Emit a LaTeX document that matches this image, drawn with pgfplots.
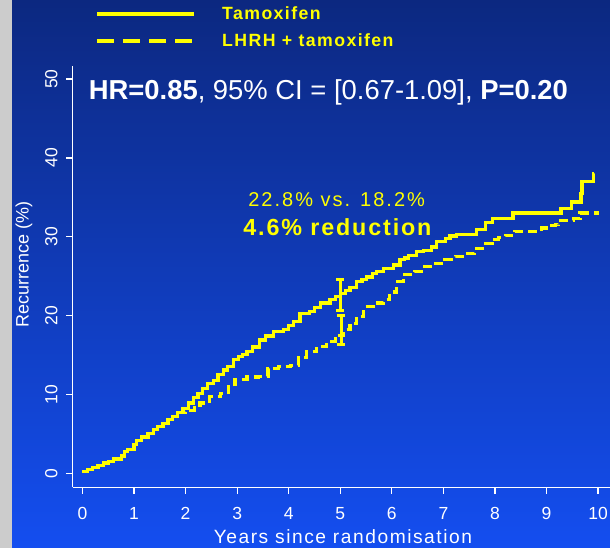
\documentclass[border=0pt]{standalone}
\usepackage{pgfplots}
\pgfplotsset{compat=1.18}
\usepackage{fontspec}
\setmainfont{Liberation Sans}
\newfontfamily\spaced{Liberation Sans}[LetterSpace=8]
\newfontfamily\spacedwide{Liberation Sans}[LetterSpace=10]
\definecolor{bgtop}{RGB}{12,40,128}
\definecolor{bgbot}{RGB}{20,78,240}
\definecolor{strip}{RGB}{204,204,204}
\definecolor{kmyellow}{RGB}{255,255,0}

\begin{document}
\begin{tikzpicture}
\useasboundingbox (0,0) rectangle (610pt,548pt);
\fill[strip] (0,0) rectangle (12pt,548pt);
\shade[top color=bgtop, bottom color=bgbot] (12pt,0) rectangle (610pt,548pt);
\begin{axis}[
    at={(72.7pt,60.7pt)}, anchor=south west,
    scale only axis, width=537.2pt, height=421.3pt,
    xmin=-0.19, xmax=10.23, ymin=-1.78, ymax=51.65,
    axis lines=left, axis line style={-, white, line width=1.3pt},
    tick align=outside, major tick length=6.7pt,
    tick style={white, line width=1.3pt},
    xtick={0,1,...,10}, ytick={0,10,...,50},
    /pgf/number format/assume math mode=true,
    ticklabel style={font=\fontsize{17.5}{20}\selectfont, text=white},
    xticklabel style={yshift=-10pt},
    yticklabel style={xshift=-5pt, rotate=90, anchor=south, inner ysep=3.2pt},
    xlabel={Years since randomisation},
    ylabel={Recurrence (\%)},
    xlabel style={font=\spaced\fontsize{19.2}{22}\selectfont, text=white,
        at={(axis description cs:0.503,-0.118)}, anchor=center},
    ylabel style={font=\fontsize{18}{20}\selectfont, text=white,
        at={(axis description cs:-0.0907,0.528)}, anchor=center},
    legend style={draw=none, fill=none, inner sep=0pt,
        at={(axis description cs:0.0415,1.146)}, anchor=north west,
        font=\spaced\bfseries\fontsize{17.7}{20}\selectfont, text=kmyellow,
        row sep=9pt, column sep=24pt},
    legend cell align=left,
    legend image code/.code={\draw[#1] (0pt,0pt) -- (97pt,0pt);},
]
\addlegendimage{kmyellow, line width=4pt}
\addlegendentry{Tamoxifen}
\addlegendimage{kmyellow, line width=4pt, dash pattern=on 17pt off 9pt}
\addlegendentry{LHRH + tamoxifen}

% Tamoxifen
\addplot[const plot, kmyellow, line width=3.2pt, forget plot] coordinates {
    (0,0.2) (0.1,0.5) (0.2,0.7) (0.3,1.0) (0.4,1.3) (0.5,1.5) (0.6,1.8)
    (0.75,2.2) (0.82,2.8) (0.88,3.0) (1.0,3.6) (1.05,4.2) (1.15,4.6)
    (1.27,5.0) (1.37,5.5) (1.46,5.9) (1.56,6.3) (1.66,6.8) (1.75,7.2)
    (1.85,7.7) (1.95,8.2) (2.05,8.9) (2.15,9.6) (2.24,10.1) (2.33,10.8)
    (2.43,11.4) (2.54,11.8) (2.63,12.5) (2.73,13.1) (2.82,13.5) (2.93,14.4)
    (3.02,14.8) (3.1,15.1) (3.19,15.4) (3.3,16.0) (3.44,16.9) (3.55,17.4)
    (3.70,18.0) (3.9,18.2) (4.0,18.7) (4.09,19.2) (4.22,20.3) (4.41,20.5)
    (4.5,21.0) (4.61,21.6) (4.80,22.0) (4.9,22.4) (5.0,22.8) (5.1,23.2)
    (5.19,23.6) (5.32,24.3) (5.42,24.6) (5.51,24.9) (5.62,25.3) (5.71,25.6)
    (5.84,26.0) (6.03,26.4) (6.16,27.1) (6.25,27.3) (6.32,27.6) (6.48,28.1)
    (6.61,28.3) (6.77,28.7) (6.87,29.4) (7.04,29.8) (7.13,30.1) (7.26,30.3)
    (7.65,30.9) (7.81,31.8) (7.96,32.3) (8.35,33.0) (9.28,33.6) (9.49,34.4)
    (9.67,35.5) (9.69,37.0) (9.91,38.0) (9.93,38.0)
};
% LHRH + tamoxifen
\addplot[const plot, kmyellow, line width=3.2pt, dash pattern=on 9pt off 5pt, forget plot] coordinates {
    (0,0.2) (0.1,0.5) (0.2,0.7) (0.3,1.0) (0.4,1.3) (0.5,1.5) (0.6,1.8)
    (0.75,2.2) (0.82,2.8) (0.88,3.0) (1.0,3.6) (1.05,4.2) (1.15,4.6)
    (1.27,5.0) (1.37,5.5) (1.46,5.9) (1.56,6.3) (1.66,6.8) (1.75,7.2)
    (1.85,7.7) (2.0,8.0) (2.18,8.3) (2.28,8.9) (2.47,9.7) (2.67,10.1)
    (2.83,11.0) (2.96,11.9) (3.19,12.2) (3.41,12.3) (3.6,13.3) (3.8,13.5)
    (4.03,13.7) (4.19,14.7) (4.35,15.4) (4.54,16.1) (4.74,16.7) (4.9,17.5)
    (5.06,18.2) (5.19,19.0) (5.32,19.9) (5.45,21.1) (5.64,21.6) (5.84,22.0)
    (5.96,23.0) (6.09,24.3) (6.22,25.2) (6.44,25.6) (6.64,26.2) (6.84,26.6)
    (7.03,27.1) (7.23,27.5) (7.42,27.9) (7.61,28.5) (7.81,29.1) (8.0,29.6)
    (8.07,29.9) (8.2,30.2) (8.39,30.7) (8.91,31.1) (9.07,31.4) (9.17,31.5)
    (9.23,32.1) (9.52,32.3) (9.65,33.0) (10.02,33.0)
};
% 95% CI at 5 years: bars and caps
\addplot[kmyellow, line width=3pt, forget plot] coordinates {(5.0,20.7) (5.0,24.6)};
\addplot[kmyellow, line width=3pt, forget plot] coordinates {(4.922,24.6) (5.078,24.6)};
\addplot[kmyellow, line width=3pt, forget plot] coordinates {(4.922,20.7) (5.078,20.7)};
\addplot[kmyellow, line width=3pt, forget plot] coordinates {(5.02,16.3) (5.02,20.0)};
\addplot[kmyellow, line width=3pt, forget plot] coordinates {(4.942,20.0) (5.098,20.0)};
\addplot[kmyellow, line width=3pt, forget plot] coordinates {(4.942,16.3) (5.098,16.3)};

\node[anchor=base west, inner sep=0pt, text=white, font=\fontsize{27.4}{30}\selectfont]
    at (axis cs:0.12,47.34) {\textbf{HR=0.85}, 95\% CI = [0.67-1.09], \textbf{P=0.20}};
\node[anchor=base, inner sep=0pt, text=kmyellow, font=\spacedwide\fontsize{20}{22}\selectfont]
    at (axis cs:4.93,33.8) {22.8\% vs. 18.2\%};
\node[anchor=base, inner sep=0pt, text=kmyellow, font=\spaced\bfseries\fontsize{23.3}{26}\selectfont]
    at (axis cs:4.945,30.1) {4.6\% reduction};
\end{axis}
\end{tikzpicture}
\end{document}
